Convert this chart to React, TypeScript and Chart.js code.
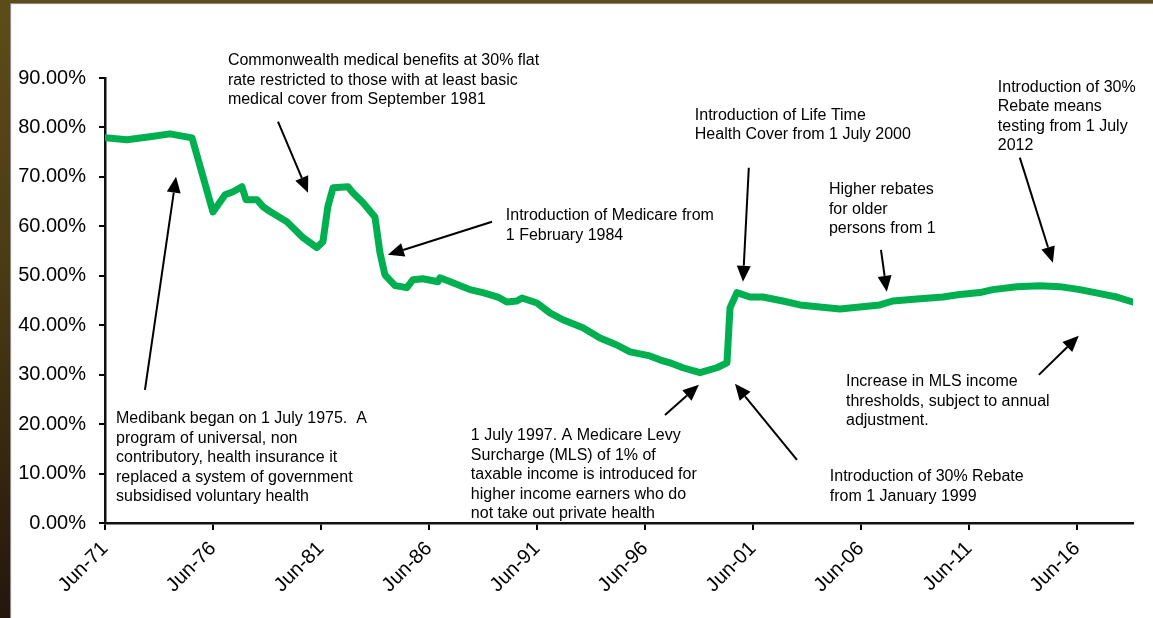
import React, { useEffect, useRef } from 'react';
import { Chart, registerables } from 'chart.js';

Chart.register(...registerables);

// Share of population with private health cover, by decimal year
const years = [
  1971.5, 1972.52, 1973.58, 1974.51, 1975.53, 1976.5, 1977.06, 1977.43, 1977.84, 1978.03,
  1978.54, 1978.81, 1979.14, 1979.93, 1980.67, 1981.31, 1981.59, 1981.82, 1982.06, 1982.75,
  1982.98, 1983.44, 1984.0, 1984.23, 1984.46, 1984.93, 1985.48, 1985.76, 1986.22, 1986.92,
  1987.01, 1987.61, 1988.4, 1989.0, 1989.69, 1990.11, 1990.57, 1990.81, 1991.5, 1992.1,
  1992.7, 1993.63, 1994.42, 1995.2, 1995.81, 1996.73, 1997.19, 1997.66, 1998.26, 1999.05,
  1999.83, 2000.3, 2000.44, 2000.76, 2001.36, 2001.96, 2002.89, 2003.68, 2004.6, 2005.53,
  2006.45, 2007.38, 2007.98, 2009.09, 2010.3, 2011.08, 2012.01, 2012.61, 2013.72, 2014.79,
  2015.71, 2016.64, 2017.57, 2018.35, 2019.09,
];
const shares = [
  77.9, 77.5, 78.1, 78.7, 77.9, 62.9, 66.4, 67.0, 68.0, 65.4,
  65.4, 64.0, 63.0, 60.9, 57.7, 55.7, 56.9, 64.0, 67.8, 68.0,
  66.8, 64.8, 61.9, 54.7, 50.2, 48.0, 47.6, 49.2, 49.4, 48.8,
  49.6, 48.6, 47.2, 46.6, 45.7, 44.7, 44.9, 45.5, 44.5, 42.5,
  41.1, 39.5, 37.4, 36.0, 34.6, 33.8, 33.0, 32.4, 31.4, 30.4,
  31.4, 32.4, 43.5, 46.6, 45.7, 45.7, 44.9, 44.1, 43.7, 43.3,
  43.7, 44.1, 44.9, 45.3, 45.7, 46.2, 46.6, 47.2, 47.8, 48.0,
  47.8, 47.2, 46.4, 45.7, 44.7,
];

const xTickValues = [1971.5, 1976.5, 1981.5, 1986.5, 1991.5, 1996.5, 2001.5, 2006.5, 2011.5, 2016.5];
const xTickLabels = ['Jun-71', 'Jun-76', 'Jun-81', 'Jun-86', 'Jun-91', 'Jun-96', 'Jun-01', 'Jun-06', 'Jun-11', 'Jun-16'];

// Annotation texts
const noteLines: string[][] = [
  ['Commonwealth medical benefits at 30% flat', 'rate restricted to those with at least basic', 'medical cover from September 1981'],
  ['Introduction of Life Time', 'Health Cover from 1 July 2000'],
  ['Introduction of 30%', 'Rebate means', 'testing from 1 July', '2012'],
  ['Higher rebates', 'for older', 'persons from 1'],
  ['Introduction of Medicare from', '1 February 1984'],
  ['Medibank began on 1 July 1975.  A', 'program of universal, non', 'contributory, health insurance it', 'replaced a system of government', 'subsidised voluntary health'],
  ['1 July 1997. A Medicare Levy', 'Surcharge (MLS) of 1% of', 'taxable income is introduced for', 'higher income earners who do', 'not take out private health'],
  ['Introduction of 30% Rebate', 'from 1 January 1999'],
  ['Increase in MLS income', 'thresholds, subject to annual', 'adjustment.'],
];
// Anchor of each note (year, percent) = left edge / centre of first line
const noteAt: [number, number][] = [
  [1977.19, 93.5], [1998.81, 82.4], [2012.84, 88.06], [2005.02, 67.41], [1990.06, 62.15],
  [1972.01, 21.05], [1988.44, 17.61], [2005.06, 9.31], [2005.81, 28.54],
];
// Arrows (year, percent) tail -> head
const arrowFrom: [number, number][] = [
  [1979.51, 81.17], [1973.35, 26.92], [1989.42, 60.93], [2001.31, 71.86], [2007.43, 55.26],
  [2013.86, 73.89], [2014.74, 29.96], [1997.43, 21.86], [2003.54, 12.75],
];
const arrowTo: [number, number][] = [
  [1980.9, 66.8], [1974.79, 70.04], [1984.6, 54.25], [2001.04, 48.79], [2007.7, 46.76],
  [2015.39, 52.63], [2016.59, 37.85], [1999.0, 27.94], [2000.67, 28.14],
];

const FONT = '"Liberation Sans", Arial, Helvetica, sans-serif';

const annotationPlugin = {
  id: 'notes',
  afterDraw(chart: any) {
    const { ctx } = chart;
    const xs = chart.scales.x;
    const ys = chart.scales.y;
    ctx.save();
    ctx.fillStyle = '#000';
    ctx.font = `16px ${FONT}`;
    ctx.textAlign = 'left';
    ctx.textBaseline = 'middle';
    noteLines.forEach((lines, i) => {
      const x = xs.getPixelForValue(noteAt[i][0]);
      const y = ys.getPixelForValue(noteAt[i][1]);
      lines.forEach((t, j) => ctx.fillText(t, x, y + j * 19.4));
    });
    ctx.strokeStyle = '#000';
    ctx.lineWidth = 2;
    arrowFrom.forEach((f, i) => {
      const x1 = xs.getPixelForValue(f[0]);
      const y1 = ys.getPixelForValue(f[1]);
      const x2 = xs.getPixelForValue(arrowTo[i][0]);
      const y2 = ys.getPixelForValue(arrowTo[i][1]);
      const ang = Math.atan2(y2 - y1, x2 - x1);
      const L = 16, W = 7;
      const bx = x2 - L * Math.cos(ang);
      const by = y2 - L * Math.sin(ang);
      ctx.beginPath();
      ctx.moveTo(x1, y1);
      ctx.lineTo(bx, by);
      ctx.stroke();
      ctx.beginPath();
      ctx.moveTo(x2, y2);
      ctx.lineTo(bx + W * Math.sin(ang), by - W * Math.cos(ang));
      ctx.lineTo(bx - W * Math.sin(ang), by + W * Math.cos(ang));
      ctx.closePath();
      ctx.fill();
    });
    ctx.restore();
  },
};

export default function App() {
  const ref = useRef<HTMLCanvasElement | null>(null);
  useEffect(() => {
    if (!ref.current) return;
    const chart = new Chart(ref.current, {
      type: 'line',
      data: {
        datasets: [
          {
            data: years.map((x, i) => ({ x, y: shares[i] })),
            borderColor: '#00B050',
            borderWidth: 7,
            pointRadius: 0,
            tension: 0,
            borderJoinStyle: 'round',
            borderCapStyle: 'round',
            fill: false,
          },
        ],
      },
      options: {
        responsive: false,
        animation: false,
        layout: { padding: { left: 0, top: 78, right: 20, bottom: 0 } },
        plugins: { legend: { display: false }, tooltip: { enabled: false } },
        scales: {
          x: {
            type: 'linear',
            min: 1971.5,
            max: 2019.1,
            afterBuildTicks: (s: any) => {
              s.ticks = xTickValues.map((v) => ({ value: v }));
            },
            afterFit: (s: any) => {
              s.height = 95;
            },
            ticks: {
              autoSkip: false,
              minRotation: 45,
              maxRotation: 45,
              padding: 7,
              color: '#000',
              font: { family: FONT, size: 20 },
              callback: (_v: any, i: number) => xTickLabels[i],
            },
            grid: { drawOnChartArea: false, drawTicks: true, tickLength: 7, color: '#000', lineWidth: 2 },
            border: { display: true, color: '#111', width: 2.5 },
          },
          y: {
            min: 0,
            max: 90,
            afterFit: (s: any) => {
              s.width = 105;
            },
            ticks: {
              stepSize: 10,
              padding: 13,
              color: '#000',
              font: { family: FONT, size: 20 },
              callback: (v: any) => Number(v).toFixed(2) + '%',
            },
            grid: { drawOnChartArea: false, drawTicks: true, tickLength: 6, color: '#000', lineWidth: 2 },
            border: { display: true, color: '#111', width: 2.5 },
          },
        },
      },
      plugins: [annotationPlugin],
    } as any);
    return () => chart.destroy();
  }, []);

  return (
    <div
      style={{
        position: 'fixed',
        left: 0,
        top: 0,
        width: 1153,
        height: 618,
        background: 'linear-gradient(to bottom, #5e4c18 0%, #4a3a14 45%, #24160c 100%)',
        overflow: 'hidden',
      }}
    >
      <div
        style={{
          position: 'absolute',
          left: 10,
          top: 3,
          right: 0,
          bottom: 0,
          background: '#ffffff',
          boxShadow: 'inset 1px 1px 1px rgba(0,0,0,0.5)',
        }}
      />
      <canvas ref={ref} width={1153} height={618} style={{ position: 'absolute', left: 0, top: 0 }} />
    </div>
  );
}
